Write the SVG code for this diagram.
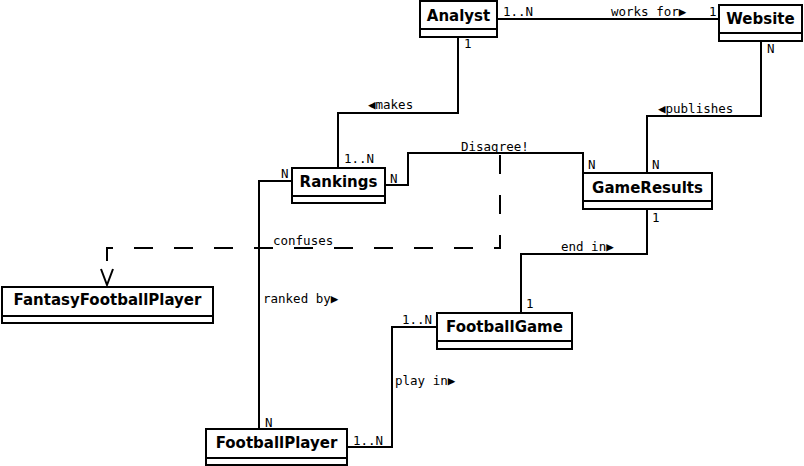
<svg xmlns="http://www.w3.org/2000/svg" width="804" height="466" viewBox="0 0 804 466">
<style>
.box{fill:#fff;stroke:#000;stroke-width:2}
.sep{stroke:#000;stroke-width:2}
.name{font-family:"DejaVu Sans",sans-serif;font-weight:bold;font-size:15px;fill:#000;text-anchor:middle}
.lbl{font-family:"DejaVu Sans Mono",monospace;font-size:12.5px;fill:#000}
.conn{fill:none;stroke:#000;stroke-width:2}
.dash{fill:none;stroke:#000;stroke-width:2;stroke-dasharray:19 21}
</style>
<rect width="804" height="466" fill="#fff"/>
<g id="connectors">
<path class="conn" d="M497,19 H719"/>
<path class="conn" d="M458,37 V113 H338 V168"/>
<path class="conn" d="M761,41 V116 H647 V173"/>
<path class="conn" d="M385,185 H408 V153 H583 V173"/>
<path class="conn" d="M292,181 H259 V429"/>
<path class="conn" d="M647,209 V254 H521 V313"/>
<path class="conn" d="M347,447 H392 V327 H437"/>
<path class="dash" d="M500,155 V248 H107 V285"/>
<path class="conn" d="M101,269 L107,285 L113,269"/>
<text class="lbl" x="503" y="16">1..N</text>
<text class="lbl" x="611" y="16">works for▶</text>
<text class="lbl" x="709" y="16">1</text>
<text class="lbl" x="464" y="48">1</text>
<text class="lbl" x="767" y="53">N</text>
<text class="lbl" x="368" y="109">◀makes</text>
<text class="lbl" x="658" y="113">◀publishes</text>
<text class="lbl" x="461" y="151">Disagree!</text>
<text class="lbl" x="344" y="163">1..N</text>
<text class="lbl" x="281" y="178">N</text>
<text class="lbl" x="390" y="183">N</text>
<text class="lbl" x="588" y="169">N</text>
<text class="lbl" x="652" y="169">N</text>
<text class="lbl" x="652" y="222">1</text>
<text class="lbl" x="273" y="245">confuses</text>
<text class="lbl" x="561" y="251">end in▶</text>
<text class="lbl" x="263" y="303">ranked by▶</text>
<text class="lbl" x="526" y="308">1</text>
<text class="lbl" x="402" y="324">1..N</text>
<text class="lbl" x="395" y="385">play in▶</text>
<text class="lbl" x="265" y="427">N</text>
<text class="lbl" x="353" y="445">1..N</text>
</g>
<g id="Analyst">
<rect class="box" x="420" y="1" width="77" height="36"/>
<line class="sep" x1="420" y1="29" x2="497" y2="29"/>
<text class="name" x="458.5" y="21">Analyst</text>
</g>
<g id="Website">
<rect class="box" x="719" y="5" width="83" height="36"/>
<line class="sep" x1="719" y1="33" x2="802" y2="33"/>
<text class="name" x="760.5" y="24">Website</text>
</g>
<g id="Rankings">
<rect class="box" x="292" y="168" width="93" height="35"/>
<line class="sep" x1="292" y1="196" x2="385" y2="196"/>
<text class="name" x="338.5" y="187">Rankings</text>
</g>
<g id="GameResults">
<rect class="box" x="583" y="173" width="129" height="36"/>
<line class="sep" x1="583" y1="201" x2="712" y2="201"/>
<text class="name" x="647.5" y="193">GameResults</text>
</g>
<g id="FantasyFootballPlayer">
<rect class="box" x="2" y="287" width="211" height="36"/>
<line class="sep" x1="2" y1="316" x2="213" y2="316"/>
<text class="name" x="107.5" y="305">FantasyFootballPlayer</text>
</g>
<g id="FootballGame">
<rect class="box" x="437" y="313" width="135" height="36"/>
<line class="sep" x1="437" y1="341" x2="572" y2="341"/>
<text class="name" x="504.5" y="332">FootballGame</text>
</g>
<g id="FootballPlayer">
<rect class="box" x="206" y="429" width="141" height="36"/>
<line class="sep" x1="206" y1="458" x2="347" y2="458"/>
<text class="name" x="276.5" y="448">FootballPlayer</text>
</g>
</svg>
